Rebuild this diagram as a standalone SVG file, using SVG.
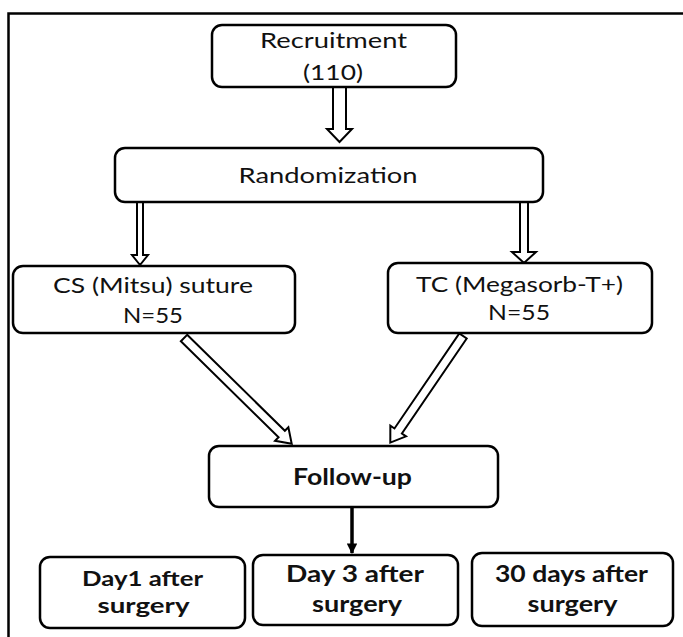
<svg xmlns="http://www.w3.org/2000/svg" width="683" height="637" viewBox="0 0 683 637">
<defs>
<style>
.box{fill:#fff;stroke:#000;stroke-width:2.5}
.t{font-family:Lato,"Open Sans","Liberation Sans",sans-serif;font-size:21px;fill:#111;text-anchor:middle}
.b{font-weight:bold;font-size:22px}
.s{font-size:21px}
.ha{fill:#fff;stroke:#000;stroke-width:2;stroke-linejoin:miter}
</style>
<marker id="sh" viewBox="0 0 10 10" refX="9" refY="5" markerWidth="3.2" markerHeight="3" orient="auto" markerUnits="strokeWidth">
<path d="M0,0 L10,5 L0,10 z" fill="#000"/>
</marker>
</defs>
<rect width="683" height="637" fill="#fff"/>
<path d="M8.5,637 V13.5 H683" fill="none" stroke="#000" stroke-width="2.5"/>
<g id="connectors">
<polygon class="ha" points="333,87 333,129 327,129 339.5,142 352,129 346,129 346,87"/>
<polygon class="ha" points="137,202 137,255 132,255 140,265 148,255 143,255 143,202"/>
<polygon class="ha" points="520,202 520,252 512,252 524,263 536,252 528,252 528,202"/>
<g transform="translate(184,338) rotate(44.5)">
<polygon class="ha" points="0,-4.5 137,-4.5 137,-9.5 151,0 137,9.5 137,4.5 0,4.5"/>
</g>
<g transform="translate(463,336) rotate(124.3)">
<polygon class="ha" points="0,-4.5 115,-4.5 115,-9.5 129,0 115,9.5 115,4.5 0,4.5"/>
</g>
<line x1="352" y1="508" x2="352" y2="553" stroke="#000" stroke-width="3.5" marker-end="url(#sh)"/>
</g>
<g id="recruitment">
<rect class="box" x="212" y="25" width="244" height="62" rx="10"/>
<text class="t" x="333.5" y="48" textLength="147" lengthAdjust="spacingAndGlyphs">Recruitment</text>
<text class="t" x="333" y="80" textLength="60" lengthAdjust="spacingAndGlyphs">(110)</text>
</g>
<g id="randomization">
<rect class="box" x="115" y="148" width="428" height="54" rx="10"/>
<text class="t" x="328" y="183" textLength="179" lengthAdjust="spacingAndGlyphs">Randomization</text>
</g>
<g id="cs">
<rect class="box" x="13" y="266" width="282" height="67" rx="10"/>
<text class="t" x="153" y="293" textLength="200" lengthAdjust="spacingAndGlyphs">CS (Mitsu) suture</text>
<text class="t" x="153" y="323" textLength="60" lengthAdjust="spacingAndGlyphs">N=55</text>
</g>
<g id="tc">
<rect class="box" x="388" y="263" width="264" height="70" rx="10"/>
<text class="t" x="519.5" y="292" textLength="207" lengthAdjust="spacingAndGlyphs">TC (Megasorb-T+)</text>
<text class="t" x="519" y="320" textLength="62" lengthAdjust="spacingAndGlyphs">N=55</text>
</g>
<g id="followup">
<rect class="box" x="209" y="446" width="289" height="61" rx="10"/>
<text class="t b" x="352.5" y="485" textLength="119" lengthAdjust="spacingAndGlyphs">Follow-up</text>
</g>
<g id="day1">
<rect class="box" x="40" y="557" width="205" height="71" rx="10"/>
<text class="t b s" x="142.5" y="586" textLength="121" lengthAdjust="spacingAndGlyphs">Day1 after</text>
<text class="t b s" x="143.5" y="613" textLength="92" lengthAdjust="spacingAndGlyphs">surgery</text>
</g>
<g id="day3">
<rect class="box" x="253" y="555" width="205" height="70" rx="10"/>
<text class="t b" x="355" y="582" textLength="138" lengthAdjust="spacingAndGlyphs">Day 3 after</text>
<text class="t b" x="357" y="612" textLength="90" lengthAdjust="spacingAndGlyphs">surgery</text>
</g>
<g id="day30">
<rect class="box" x="472" y="553" width="201" height="73" rx="10"/>
<text class="t b" x="571.5" y="582" textLength="153" lengthAdjust="spacingAndGlyphs">30 days after</text>
<text class="t b" x="572.5" y="612" textLength="90" lengthAdjust="spacingAndGlyphs">surgery</text>
</g>
</svg>
